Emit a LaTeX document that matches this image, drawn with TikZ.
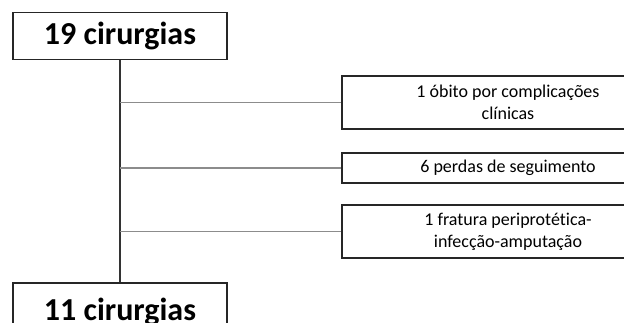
\documentclass[tikz,border=0pt]{standalone}
\usepackage{fontspec}
\setmainfont{Carlito}[Ligatures=NoCommon]
\usetikzlibrary{positioning}
\tikzset{>=stealth}
\tikzset{
	mainbox/.style={draw=black!85, line width=1.3pt, minimum width=214pt, font=\fontsize{32}{38}\selectfont\bfseries},
	lossbox/.style={draw=black!85, line width=1.2pt, minimum width=332pt, align=center, font=\fontsize{18}{22}\selectfont},
	branch/.style={draw=black!45, line width=1.1pt}
}

\begin{document}
\begin{tikzpicture}[x=1pt, y=-1pt]
			\clip (0, 0) rectangle (624, 323);
			\fill [white] (0, 0) rectangle (624, 323);
			\node [mainbox, minimum height=47.5pt] (start) at (120, 36) {19 cirurgias};
			\node [mainbox, minimum height=58pt] (final) at (120, 312) {11 cirurgias};
			\draw [line width=1.1pt, black!80] (start.south)--(final.north);
			% exclusions
			\node [lossbox, minimum height=53pt] (obito) at (508, 102.5) {1 óbito por complicações\\clínicas};
			\node [lossbox, minimum height=30pt] (perdas) at (508, 168) {6 perdas de seguimento};
			\node [lossbox, minimum height=53pt] (fratura) at (508, 231.5) {1 fratura periprotética-\\infecção-amputação};
			\draw [branch] (start.south |- obito.west)--(obito.west);
			\draw [branch] (start.south |- perdas.west)--(perdas.west);
			\draw [branch] (start.south |- fratura.west)--(fratura.west);
		\end{tikzpicture}
\end{document}
